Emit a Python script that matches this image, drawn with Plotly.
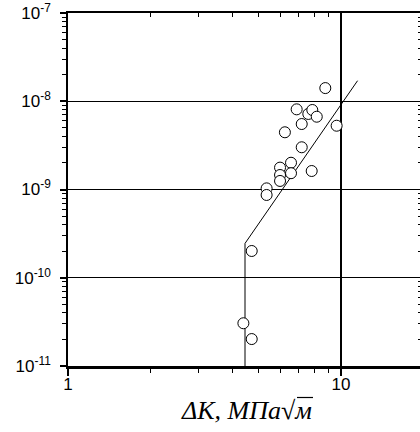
import plotly.graph_objects as go

# data points (ΔK, da/dN)
dk = [8.76, 6.88, 7.59, 7.85, 8.15, 7.18, 6.23, 9.64, 7.18, 6.56, 7.81, 6.56,
      5.98, 5.98, 5.98, 5.34, 5.34, 4.71, 4.39, 4.71]
rate = [1.41e-8, 8.1e-9, 7.18e-9, 7.96e-9, 6.68e-9, 5.52e-9, 4.45e-9, 5.28e-9,
        3.01e-9, 2.01e-9, 1.62e-9, 1.53e-9, 1.77e-9, 1.46e-9, 1.25e-9, 1.03e-9,
        8.67e-10, 2.01e-10, 3.05e-11, 2.02e-11]

# fitted curve (threshold + Paris line)
fit_x = [4.45, 4.45, 11.5]
fit_y = [1e-11, 2.45e-10, 1.71e-8]

ytick_vals = [1e-11, 1e-10, 1e-9, 1e-8, 1e-7]
ytick_text = ["10<sup>-11</sup>", "10<sup>-10</sup>", "10<sup>-9</sup>",
              "10<sup>-8</sup>", "10<sup>-7</sup>"]
xtick_vals = [1, 10]
xtick_text = ["1", "10"]

W, H = 420, 432
L, R, T, B = 68, 0, 13, 66
PW, PH = W - L - R, H - T - B
xr = [0, PW / 273.0]
yr = [-11, -7]

def px(x):
    return (x - L) / PW

def py(y):
    return (H - B - y) / PH

fig = go.Figure()
fig.add_trace(go.Scatter(x=fit_x, y=fit_y, mode="lines",
                         line=dict(color="black", width=1), showlegend=False))
fig.add_trace(go.Scatter(x=dk, y=rate, mode="markers",
                         marker=dict(size=11, color="white", symbol="circle",
                                     line=dict(color="black", width=1)),
                         showlegend=False))
fig.add_trace(go.Scatter(x=[2], y=[1e-9], xaxis="x2", yaxis="y2",
                         mode="markers", marker=dict(opacity=0), showlegend=False,
                         hoverinfo="skip"))

tickfont = dict(family="Liberation Sans, Arial", size=17, color="black")

fig.update_layout(
    width=W, height=H,
    margin=dict(l=L, r=R, t=T, b=B),
    paper_bgcolor="white", plot_bgcolor="white",
    xaxis=dict(type="log", range=xr, tickvals=xtick_vals, ticktext=xtick_text,
               ticks="outside", ticklen=7, tickwidth=1.5, tickcolor="black",
               minor=dict(ticks="outside", ticklen=4, tickwidth=1, tickcolor="black",
                          dtick="D1", showgrid=False),
               showgrid=True, gridcolor="black", gridwidth=1.8,
               showline=True, linecolor="black", linewidth=2.5,
               zeroline=False, tickfont=tickfont, ticklabelstandoff=-6),
    yaxis=dict(type="log", range=yr, tickvals=ytick_vals, ticktext=ytick_text,
               ticks="outside", ticklen=6, tickwidth=1.5, tickcolor="black",
               minor=dict(ticks="outside", ticklen=4, tickwidth=1, tickcolor="black",
                          dtick="D1", showgrid=False),
               showgrid=True, gridcolor="black", gridwidth=1.3,
               showline=True, linecolor="black", linewidth=1.5,
               zeroline=False, tickfont=tickfont, ticklabelstandoff=6),
    xaxis2=dict(type="log", range=xr, overlaying="x", side="top",
                tickvals=xtick_vals, showticklabels=False,
                ticks="inside", ticklen=4, tickcolor="black",
                minor=dict(ticks="inside", ticklen=4, tickcolor="black", dtick="D1"),
                showgrid=False, showline=True, linecolor="black", linewidth=1.5,
                zeroline=False),
    yaxis2=dict(type="log", range=yr, overlaying="y", side="right",
                tickvals=ytick_vals, showticklabels=False,
                ticks="inside", ticklen=2, tickcolor="black",
                minor=dict(ticks="inside", ticklen=2, tickcolor="black", dtick="D1"),
                showgrid=False, showline=False, zeroline=False),
    showlegend=False,
)

fig.add_annotation(text="<i>ΔK, МПа√м</i>", xref="paper", yref="paper",
                   x=px(246), y=py(410),
                   xanchor="center", yanchor="middle", showarrow=False,
                   font=dict(family="Liberation Serif, Times New Roman", size=26,
                             color="black"))
# radical overline
fig.add_shape(type="line", xref="paper", yref="paper",
              x0=px(297), x1=px(313), y0=py(397.5), y1=py(397.5),
              line=dict(color="black", width=1.2))

fig.write_html("out.html")
